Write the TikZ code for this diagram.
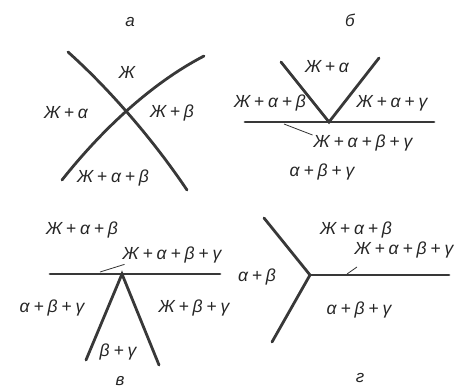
\documentclass[tikz,border=0pt]{standalone}
\usepackage{fontspec}
\setmainfont{Liberation Sans}
\newcommand\pl{\hspace{0.22em}+\hspace{0.22em}}
\begin{document}
\begin{tikzpicture}[x=1pt,y=-1pt,
  bnd/.style={line width=2.8pt,draw=black!78,line cap=round},
  lbl/.style={font=\fontsize{17.5}{17.5}\selectfont\itshape,inner sep=0pt,text=black!85},
  ttl/.style={font=\fontsize{17}{17}\selectfont\itshape,inner sep=0pt,text=black!85},
  lead/.style={line width=0.8pt,draw=black!80}]
\useasboundingbox (0,0) rectangle (463,389);
% panel a
\node[ttl] (ta) at (130,22) {а};
\coordinate (a1s) at (68,52); \coordinate (a1e) at (187,190);
\coordinate (a2s) at (62,180); \coordinate (a2e) at (204,56);
\draw[bnd] (a1s) .. controls (105,85) and (150,135) .. (a1e);
\draw[bnd] (a2s) .. controls (100,132) and (150,84) .. (a2e);
\node[lbl] (aL) at (127,72) {Ж};
\node[lbl] (aJa) at (66,113) {Ж\pl α};
\node[lbl] (aJb) at (172,113) {Ж\pl β};
\node[lbl] (aJab) at (113,178) {Ж\pl α\pl β};
% panel b
\node[ttl] (tb) at (350,20) {б};
\coordinate (bh1) at (245,122); \coordinate (bh2) at (434,122);
\coordinate (bv) at (329,122);
\coordinate (bl) at (281,62); \coordinate (br) at (379,58);
\draw[bnd] (bh1) -- (bh2);
\draw[bnd] (bl) -- (bv) -- (br);
\node[lbl] (bJa) at (327,67) {Ж\pl α};
\node[lbl] (bJab) at (270,103) {Ж\pl α\pl β};
\node[lbl] (bJag) at (392,103) {Ж\pl α\pl γ};
\node[lbl] (bJabg) at (363,143) {Ж\pl α\pl β\pl γ};
\coordinate (blead) at (284,124);
\draw[lead] (bJabg.west) ++(-1,-8) -- (blead);
\node[lbl] (babg) at (322,172) {α\pl β\pl γ};
% panel v
\node[ttl] (tv) at (120,381) {в};
\coordinate (vh1) at (50,274); \coordinate (vh2) at (220,274);
\coordinate (vv) at (122,274);
\coordinate (vl) at (86,360); \coordinate (vr) at (159,365);
\draw[bnd] (vh1) -- (vh2);
\draw[bnd] (vl) -- (vv) -- (vr);
\node[lbl] (vJab) at (82,230) {Ж\pl α\pl β};
\node[lbl] (vJabg) at (172,255) {Ж\pl α\pl β\pl γ};
\coordinate (vlead) at (100,272);
\draw[lead] (vJabg.south west) ++(2,1) -- (vlead);
\node[lbl] (vabg) at (52,308) {α\pl β\pl γ};
\node[lbl] (vJbg) at (194,308) {Ж\pl β\pl γ};
\node[lbl] (vbg) at (118,352) {β\pl γ};
% panel g
\node[ttl] (tg) at (360,378) {г};
\coordinate (gv) at (310,275);
\coordinate (gul) at (264,218); \coordinate (gll) at (272,342);
\coordinate (gr) at (449,275);
\draw[bnd] (gul) -- (gv) -- (gll);
\draw[bnd] (gv) -- (gr);
\node[lbl] (gJab) at (356,230) {Ж\pl α\pl β};
\node[lbl] (gJabg) at (404,250) {Ж\pl α\pl β\pl γ};
\coordinate (glead1) at (357,267); \coordinate (glead2) at (347,274);
\draw[lead] (glead1) -- (glead2);
\node[lbl] (gab) at (257,277) {α\pl β};
\node[lbl] (gabg) at (359,310) {α\pl β\pl γ};
\end{tikzpicture}
\end{document}
